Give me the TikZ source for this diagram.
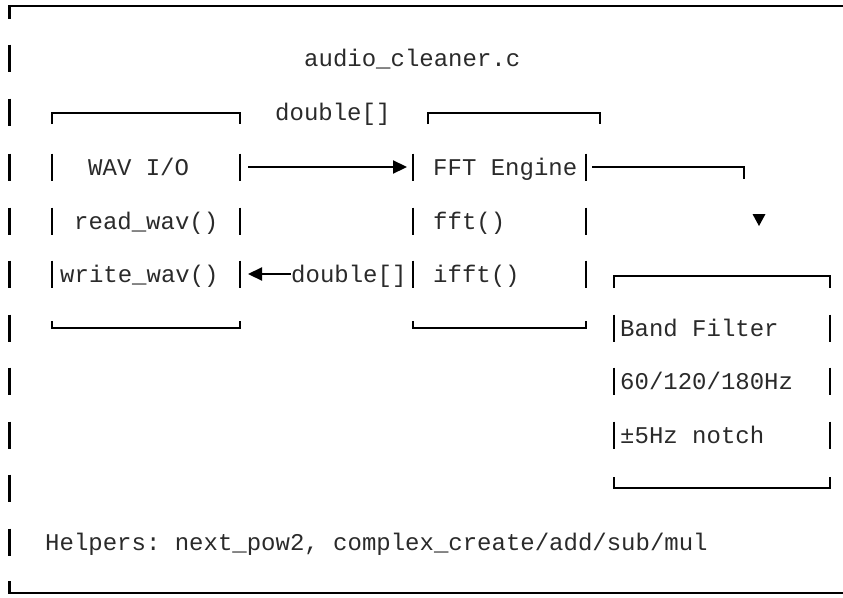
\documentclass[tikz,border=0pt]{standalone}
\usepackage{fontspec}
\setmonofont{Liberation Mono}
\usetikzlibrary{arrows.meta}
\definecolor{txt}{HTML}{2A2A2A}
\begin{document}
\begin{tikzpicture}[x=1pt,y=-1pt,
  lbl/.style={font=\ttfamily\fontsize{24}{24}\selectfont, text=txt, inner sep=0pt, anchor=base west},
  ln/.style={line width=2.2pt, draw=black},
  tip/.style={-{Triangle[length=14pt,width=13pt]}},
  rtip/.style={{Triangle[length=14pt,width=13pt]}-}]
\useasboundingbox (0,0) rectangle (843,597);

% outer frame (open on the right)
\draw[ln] (843,6) -- (9.5,6) -- (9.5,19);
\draw[ln] (9.5,581) -- (9.5,593) -- (843,593);
\foreach \r in {58,112,167,221,274,328,381,435,488,542}
  \draw[ln] (9.5,\r-13.5) -- (9.5,\r+13.5);

% title
\node[lbl] (title) at (304,66) {audio\_cleaner.c};

% WAV box
\draw[ln] (52,124) -- (52,113) -- (240,113) -- (240,124);
\draw[ln] (52,321) -- (52,328) -- (240,328) -- (240,321);
\foreach \r in {167,221,274}
  {\draw[ln] (52,\r-13.5) -- (52,\r+13.5);
   \draw[ln] (240,\r-13.5) -- (240,\r+13.5);}
\node[lbl] (wav) at (88,175) {WAV I/O};
\node[lbl] (rd) at (74,229) {read\_wav()};
\node[lbl] (wr) at (60,282) {write\_wav()};

% FFT box
\draw[ln] (428,124) -- (428,113) -- (600,113) -- (600,124);
\draw[ln] (413,321) -- (413,328) -- (586,328) -- (586,321);
\foreach \r in {167,221,274}
  {\draw[ln] (413,\r-13.5) -- (413,\r+13.5);
   \draw[ln] (586,\r-13.5) -- (586,\r+13.5);}
\node[lbl] (fft) at (433,175) {FFT Engine};
\node[lbl] (f1) at (433,229) {fft()};
\node[lbl] (f2) at (433,282) {ifft()};

% Band filter box
\draw[ln] (614,288) -- (614,276) -- (830,276) -- (830,288);
\draw[ln] (614,477) -- (614,488) -- (830,488) -- (830,477);
\foreach \r in {328,381,435}
  {\draw[ln] (614,\r-13.5) -- (614,\r+13.5);
   \draw[ln] (830,\r-13.5) -- (830,\r+13.5);}
\node[lbl] (bf) at (620,336) {Band Filter};
\node[lbl] (hz) at (620,389) {60/120/180Hz};
\node[lbl] (nt) at (620,443) {±5Hz notch};

% connectors
\coordinate (wavR) at (248,167);
\coordinate (fftL) at (407,167);
\draw[ln,tip] (wavR) -- (fftL);
\node[lbl] (d1) at (275,120) {double[]};

\coordinate (wavR2) at (248,274);
\node[lbl] (d2) at (291,282) {double[]};
\draw[ln,rtip] (wavR2) -- (d2.west |- wavR2);

\coordinate (fftR) at (592,167);
\coordinate (crn) at (744,167);
\draw[ln] (fftR) -- (crn) -- ++(0,12);
\coordinate (dn) at (759,220);
\fill[black] (dn) ++(-6.5,-6) -- ++(13,0) -- ++(-6.5,12) -- cycle;

% helpers
\node[lbl] (help) at (45,550) {Helpers: next\_pow2, complex\_create/add/sub/mul};
\end{tikzpicture}
\end{document}
